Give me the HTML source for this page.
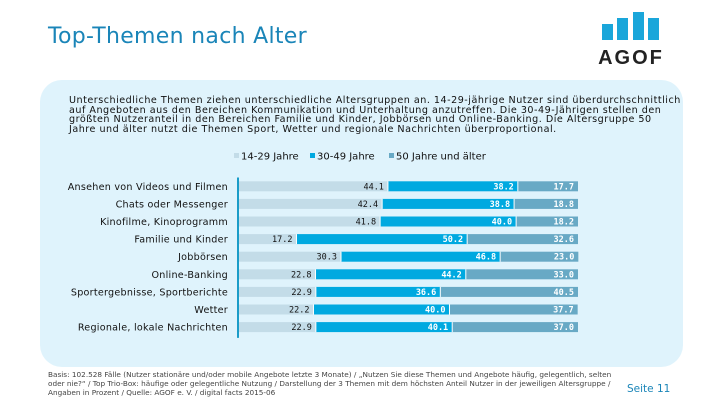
<!DOCTYPE html>
<html><head><meta charset="utf-8"><style>
body{margin:0;width:720px;height:405px;background:#fff;position:relative;overflow:hidden;font-family:"DejaVu Sans","Liberation Sans",sans-serif}
.abs{position:absolute}
</style></head><body>
<div class="abs" style="left:48px;top:24px;font-size:22px;color:#1a85b8;font-family:'DejaVu Sans',sans-serif;letter-spacing:0.3px">Top-Themen nach Alter</div>
<svg class="abs" style="left:598px;top:12px" width="70" height="60">
<rect x="4" y="12" width="11" height="16" fill="#1aa6da"/><rect x="19" y="6" width="11" height="22" fill="#1aa6da"/><rect x="35" y="0" width="11" height="28" fill="#1aa6da"/><rect x="50" y="6" width="11" height="22" fill="#1aa6da"/>
<text x="33" y="52" text-anchor="middle" font-family="Liberation Sans" font-weight="bold" font-size="20" fill="#222" letter-spacing="2">AGOF</text></svg>
<div class="abs" style="left:40px;top:80px;width:643px;height:287px;background:#dff3fc;border-radius:22px"></div>
<div class="abs" style="left:69px;top:96px;white-space:nowrap;font-size:9.6px;line-height:9.5px;letter-spacing:0.5px;color:#111">Unterschiedliche Themen ziehen unterschiedliche Altersgruppen an. 14-29-jährige Nutzer sind überdurchschnittlich<br>auf Angeboten aus den Bereichen Kommunikation und Unterhaltung anzutreffen. Die 30-49-Jährigen stellen den<br>größten Nutzeranteil in den Bereichen Familie und Kinder, Jobbörsen und Online-Banking. Die Altersgruppe 50<br>Jahre und älter nutzt die Themen Sport, Wetter und regionale Nachrichten überproportional.</div>
<svg id="chart" class="abs" style="left:0;top:0" width="720" height="405"></svg>
<div class="abs" style="left:48px;top:370px;width:578px;font-size:7.3px;line-height:9px;color:#444">Basis: 102.528 Fälle (Nutzer stationäre und/oder mobile Angebote letzte 3 Monate) / „Nutzen Sie diese Themen und Angebote häufig, gelegentlich, selten oder nie?“ / Top Trio-Box: häufige oder gelegentliche Nutzung / Darstellung der 3 Themen mit dem höchsten Anteil Nutzer in der jeweiligen Altersgruppe / Angaben in Prozent / Quelle: AGOF e. V. / digital facts 2015-06</div>
<div class="abs" style="left:627px;top:383px;font-size:10.5px;color:#1a85b8">Seite 11</div>
<script>
const categories=["Ansehen von Videos und Filmen","Chats oder Messenger","Kinofilme, Kinoprogramm","Familie und Kinder","Jobbörsen","Online-Banking","Sportergebnisse, Sportberichte","Wetter","Regionale, lokale Nachrichten"];
const young=[44.1,42.4,41.8,17.2,30.3,22.8,22.9,22.2,22.9];
const mid=[38.2,38.8,40.0,50.2,46.8,44.2,36.6,40.0,40.1];
const old=[17.7,18.8,18.2,32.6,23.0,33.0,40.5,37.7,37.0];
const seriesNames=["14-29 Jahre","30-49 Jahre","50 Jahre und älter"];
const colors=["#c3dce8","#00a9e0","#68a9c5"];
const svg=document.getElementById('chart');const NS='http://www.w3.org/2000/svg';
const x0=238,pw=340,yTop=177.5,rowH=17.6,barH=10;
const xs=v=>v/100*pw;const yc=i=>yTop+rowH*(i+0.5);
function mk(t,a){const e=document.createElementNS(NS,t);for(const k in a)e.setAttribute(k,a[k]);svg.appendChild(e);return e;}
let lx=234;
seriesNames.forEach((n,j)=>{const r=mk('rect',{x:lx,y:153,width:5,height:5,fill:colors[j]});


const t=mk('text',{x:lx+7,y:159.5,'font-size':10,fill:'#111','font-family':'DejaVu Sans'});t.textContent=n;


lx+=[76,79,0][j];});
const series=[young,mid,old];
categories.forEach((c,i)=>{
 const y=yc(i);let acc=0;
 const lab=mk('text',{x:228,y:y+3.5,'text-anchor':'end','font-size':9.6,'letter-spacing':0.25,fill:'#111','font-family':'DejaVu Sans'});lab.textContent=c;
 
 
 series.forEach((s,j)=>{
  const bx=x0+xs(acc),bw=xs(s[i]);
  const r=mk('rect',{x:bx,y:y-barH/2,width:bw,height:barH,fill:colors[j]});
  
  
  if(j>0)mk('line',{x1:bx,x2:bx,y1:y-barH/2,y2:y+barH/2,stroke:'#fff','stroke-width':1});
  acc+=s[i];
  const t=mk('text',{x:x0+xs(acc)-4,y:y+3,'text-anchor':'end','font-size':8.5,fill:j==0?'#111':'#fff','font-family':'DejaVu Sans Mono','font-weight':j==0?'normal':'bold'});t.textContent=s[i].toFixed(1);
  
  
 });
});
const ax=mk('line',{x1:x0,x2:x0,y1:yTop,y2:yTop+rowH*categories.length+2,stroke:'#1a9cc8','stroke-width':2});


</script>
</body></html>
